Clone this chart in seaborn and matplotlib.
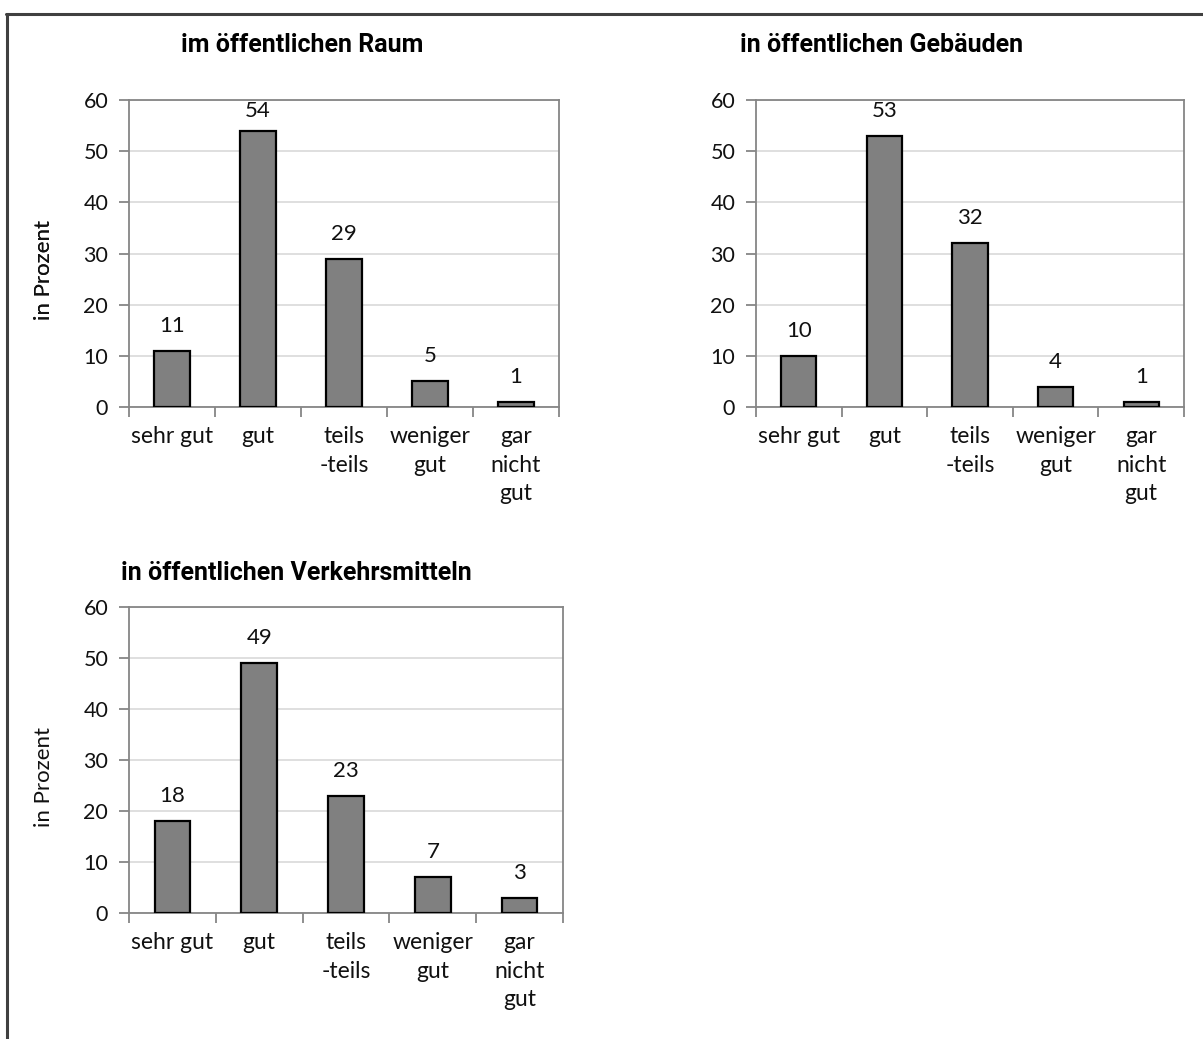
import matplotlib
matplotlib.use("Agg")
import matplotlib.pyplot as plt
from matplotlib.lines import Line2D
import seaborn as sns
import pandas as pd

categories = ["sehr gut", "gut", "teils\n-teils", "weniger\ngut", "gar\nnicht\ngut"]
raum = [11, 54, 29, 5, 1]
gebaeude = [10, 53, 32, 4, 1]
verkehr = [18, 49, 23, 7, 3]
titles = ["im öffentlichen Raum", "in öffentlichen Gebäuden", "in öffentlichen Verkehrsmitteln"]
y_label = "in Prozent"
y_ticks = [0, 10, 20, 30, 40, 50, 60]

sns.set_theme(style="white")
plt.rcParams["font.family"] = ["Lato", "DejaVu Sans"]

W, H = 1203, 1039
DPI = 100
fig = plt.figure(figsize=(W / DPI, H / DPI), dpi=DPI)

# axes boxes in pixel coordinates: left, top, right, bottom
boxes = [(129, 100, 559, 407), (756, 100, 1184, 407), (129, 607, 563, 913)]
title_pos = [(302, 45), (882, 45), (296, 573)]
series = [raum, gebaeude, verkehr]

spine_col = "#868686"
grid_col = "#d9d9d9"
text_col = "#111111"

for (l, t, r, b), vals, title, (tx, ty) in zip(boxes, series, titles, title_pos):
    ax = fig.add_axes([l / W, 1 - b / H, (r - l) / W, (b - t) / H])
    df = pd.DataFrame({"cat": categories, "val": vals})
    sns.barplot(data=df, x="cat", y="val", ax=ax, color="#808080",
                saturation=1, width=0.41, edgecolor="black", linewidth=1.6,
                zorder=3)
    ax.set_ylim(0, 60)
    ax.set_xlim(-0.5, 4.5)
    ax.set_yticks(y_ticks)
    ax.yaxis.grid(True, color=grid_col, linewidth=1.2, zorder=0)
    ax.set_axisbelow(True)
    for s in ax.spines.values():
        s.set_color(spine_col)
        s.set_linewidth(1.3)
    # category boundary ticks on x axis, labels between them
    ax.set_xticks([i - 0.5 for i in range(6)])
    ax.set_xticklabels([])
    ax.set_xticks(range(5), minor=True)
    ax.set_xticklabels(categories, minor=True, fontsize=16.5, color=text_col,
                       linespacing=1.42, va="top")
    ax.tick_params(axis="x", which="major", length=7, width=1.3,
                   color=spine_col, direction="out", bottom=True)
    ax.tick_params(axis="x", which="minor", length=0, pad=14)
    ax.tick_params(axis="y", length=7, width=1.3, color=spine_col,
                   direction="out", left=True, labelsize=15.5, pad=8,
                   labelcolor=text_col)
    ax.set_xlabel("")
    ax.set_ylabel(y_label, fontsize=16, color=text_col)
    ax.yaxis.set_label_coords(-(l - 54) / (r - l), 0.5 - 17 / (b - t))

    # value labels above the bars, kept inside the plot area
    top_px = ax.transAxes.transform((0, 1))[1]
    for i, v in enumerate(vals):
        bar_px = ax.transData.transform((i, v))[1]
        centre = min(bar_px + 25, top_px - 11)
        ax.annotate(str(v), (i, v),
                    xytext=(0, (centre - bar_px) * 72 / DPI),
                    textcoords="offset points", ha="center", va="center",
                    fontsize=16, color=text_col)
    fig.text(tx / W, 1 - ty / H, title, ha="center", va="center",
             fontsize=18, fontweight="bold", color="black",
             family=["Roboto", "DejaVu Sans"])

# outer frame of the figure
frame = dict(color="#404040", linewidth=2.2, transform=fig.transFigure)
fig.add_artist(Line2D([6 / W, 1.0], [1 - 14 / H, 1 - 14 / H], **frame))
fig.add_artist(Line2D([7 / W, 7 / W], [1 - 14 / H, 0.0], **frame))

fig.savefig("out.png", dpi=DPI, facecolor="white")
